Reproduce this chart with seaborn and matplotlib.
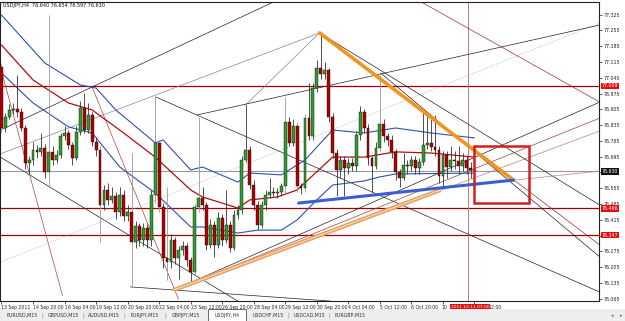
import matplotlib
matplotlib.use("Agg")
import matplotlib.pyplot as plt
import numpy as np
import pandas as pd
import seaborn as sns
from matplotlib.patches import Rectangle
from matplotlib.transforms import ScaledTranslation

sns.set_style("white")
plt.rcParams['font.family'] = ['DejaVu Sans']

# ---------------- data ----------------
first_open = 77.093
closes = [76.822, 76.871, 76.902, 76.905, 76.893, 76.822, 76.667, 76.680, 76.724, 76.716,
          76.733, 76.627, 76.716, 76.680, 76.702, 76.787, 76.800, 76.747, 76.689, 76.804,
          76.911, 76.813, 76.880, 76.760, 76.724, 76.480, 76.547, 76.503, 76.520, 76.449,
          76.525, 76.432, 76.449, 76.316, 76.387, 76.325, 76.378, 76.325, 76.525, 76.756,
          76.472, 76.245, 76.227, 76.325, 76.245, 76.281, 76.298, 76.236, 76.183, 76.472,
          76.511, 76.480, 76.303, 76.392, 76.303, 76.423, 76.325, 76.392, 76.290, 76.436,
          76.458, 76.680, 76.724, 76.569, 76.480, 76.392, 76.480, 76.525, 76.538, 76.534,
          76.538, 76.565, 76.849, 76.756, 76.831, 76.565, 76.556, 76.866, 76.787, 76.999,
          77.088, 77.062, 77.079, 76.871, 76.711, 76.636, 76.680, 76.645, 76.667, 76.653,
          76.791, 76.893, 76.822, 76.689, 76.653, 76.733, 76.840, 76.787, 76.769, 76.716,
          76.627, 76.600, 76.658, 76.653, 76.680, 76.645, 76.671, 76.747, 76.756, 76.738,
          76.724, 76.609, 76.702, 76.649, 76.680, 76.676, 76.653, 76.680, 76.645, 76.636,
          76.630]
highs = [77.110, 76.890, 76.930, 76.935, 77.057, 76.910, 76.835, 76.700, 76.760, 76.745,
         76.800, 76.750, 77.324, 76.740, 76.725, 76.800, 76.830, 76.815, 76.760, 76.830,
         76.940, 76.977, 76.933, 76.895, 76.780, 76.740, 76.570, 76.580, 76.560, 76.540,
         76.560, 76.545, 76.480, 76.711, 76.410, 76.400, 76.400, 76.395, 76.545, 76.960,
         76.770, 76.490, 76.560, 76.350, 76.340, 76.300, 76.320, 76.310, 76.250, 76.490,
         76.871, 76.560, 76.495, 76.420, 76.410, 76.450, 76.440, 76.547, 76.410, 76.460,
         76.480, 76.700, 76.924, 76.740, 76.590, 76.500, 76.500, 76.545, 76.600, 76.560,
         76.555, 76.580, 76.960, 76.870, 76.860, 76.850, 76.580, 76.885, 77.020, 77.020,
         77.124, 77.244, 77.115, 77.090, 76.890, 76.730, 76.700, 76.700, 76.690, 76.690,
         76.810, 76.920, 76.905, 76.840, 76.700, 76.760, 77.066, 76.860, 76.800, 76.790,
         76.730, 76.640, 76.711, 76.680, 76.700, 76.700, 76.690, 76.900, 76.889, 76.860,
         76.880, 76.740, 76.720, 76.720, 76.740, 76.720, 76.740, 76.710, 76.700, 76.670,
         76.654]
lows = [76.800, 76.805, 76.860, 76.885, 76.870, 76.810, 76.640, 76.620, 76.660, 76.690,
        76.700, 76.600, 76.560, 76.660, 76.665, 76.690, 76.770, 76.730, 76.660, 76.680,
        76.790, 76.800, 76.800, 76.740, 76.700, 76.316, 76.460, 76.480, 76.490, 76.420,
        76.430, 76.410, 76.410, 76.117, 76.290, 76.300, 76.300, 76.290, 76.300, 76.490,
        76.450, 76.200, 76.148, 76.200, 76.220, 76.150, 76.260, 76.210, 76.130, 76.170,
        76.450, 76.460, 76.280, 76.290, 76.250, 76.290, 76.300, 76.310, 76.270, 76.280,
        76.420, 76.440, 76.670, 76.550, 76.460, 76.370, 76.380, 76.460, 76.510, 76.520,
        76.510, 76.520, 76.534, 76.740, 76.740, 76.540, 76.530, 76.540, 76.770, 76.770,
        76.980, 77.040, 77.040, 76.850, 76.690, 76.520, 76.600, 76.520, 76.620, 76.630,
        76.630, 76.770, 76.800, 76.660, 76.540, 76.640, 76.720, 76.760, 76.740, 76.690,
        76.590, 76.560, 76.590, 76.620, 76.630, 76.620, 76.620, 76.660, 76.730, 76.720,
        76.700, 76.580, 76.560, 76.600, 76.630, 76.640, 76.620, 76.630, 76.620, 76.600,
        76.597]

upper_bars = [0, 11, 20, 24, 29, 33, 39, 41, 48, 51, 60, 63, 71, 77, 84, 92, 100, 109, 120]
upper_vals = [77.323, 77.110, 77.013, 76.999, 76.902, 76.844, 76.756, 76.769, 76.636, 76.649,
              76.582, 76.622, 76.614, 76.680, 76.813, 76.800, 76.822, 76.800, 76.778]
mid_bars = [0, 8, 17, 23, 31, 39, 48, 51, 60, 63, 70, 75, 84, 92, 100, 109, 120]
mid_vals = [77.190, 77.035, 76.933, 76.902, 76.800, 76.693, 76.547, 76.516, 76.467, 76.503,
            76.516, 76.547, 76.693, 76.693, 76.716, 76.711, 76.693]
lower_bars = [0, 8, 17, 23, 30, 39, 48, 51, 60, 65, 71, 75, 80, 84, 92, 96, 100, 120]
lower_vals = [77.066, 76.933, 76.827, 76.800, 76.649, 76.534, 76.383, 76.383, 76.356, 76.369,
              76.369, 76.414, 76.503, 76.569, 76.587, 76.605, 76.618, 76.622]

level_prices = [77.009, 76.466, 76.347]
level_labels = ["77.009", "76.466", "76.347"]
current_price = 76.630

x_tick_labels = ["13 Sep 2011", "14 Sep 20:00", "16 Sep 04:00", "19 Sep 12:00", "20 Sep 20:00",
                 "22 Sep 04:00", "23 Sep 12:00", "26 Sep 20:00", "28 Sep 04:00", "29 Sep 12:00",
                 "30 Sep 20:00", "4 Oct 04:00", "5 Oct 12:00", "6 Oct 20:00", "10", "12:00"]
bars_per_label = 8
y_tick_labels = ["77.325", "77.255", "77.185", "77.115", "77.040", "76.975", "76.905", "76.835",
                 "76.765", "76.695", "", "76.555", "76.485", "76.415", "", "76.275",
                 "76.205", "76.135", "76.065"]
y_tick_top, y_tick_step = 77.325, 0.07

# trend objects: (bar1, price1, bar2, price2, color, width, style)
trendlines = [
    (-0.3, 76.813, 70.1, 77.390, "#222222", 0.5, "-"),
    (-0.3, 76.707, 80.7, 77.244, "#888888", 0.5, "-"),
    (80.7, 77.244, 61.7, 76.920, "#888888", 0.5, "-"),
    (-0.3, 76.693, 60.7, 76.046, "#222222", 0.5, "-"),
    (32.7, 76.117, 83.5, 76.054, "#222222", 0.5, "-"),
    (-0.3, 77.093, 15.5, 76.077, "#B04040", 0.5, "-"),
    (23.1, 76.999, 44.9, 76.063, "#B04040", 0.5, "-"),
    (-0.3, 76.227, 151.8, 77.288, "#999999", 0.5, ":"),
    (49.7, 76.880, 151.8, 77.279, "#222222", 0.5, "-"),
    (105.6, 77.390, 151.8, 76.937, "#A03030", 0.5, "-"),
    (43.7, 76.103, 151.8, 76.937, "#222222", 0.5, "-"),
    (43.7, 76.103, 151.8, 76.866, "#A04040", 0.5, "-"),
    (43.7, 76.103, 151.8, 76.809, "#C08080", 0.5, "-"),
    (80.7, 77.244, 151.8, 76.480, "#222222", 0.5, "-"),
    (96.2, 77.066, 151.8, 76.250, "#222222", 0.5, "-"),
    (39.1, 76.960, 151.8, 76.094, "#222222", 0.5, "-"),
    (80.7, 77.244, 151.8, 76.303, "#A03030", 0.5, "-"),
    (75.4, 76.489, 151.8, 76.631, "#C08080", 0.5, "-"),
]
orange_line = (80.7, 77.244, 129.9, 76.591)
blue_line = (75.4, 76.489, 129.9, 76.591)
tan_line = (43.7, 76.103, 111.4, 76.547)
box = (120.0, 76.489, 133.8, 76.742)
vline_bar = 118.25
vline_label = "2011.10.11 07:00"
title = "USDJPY,H4  76.640 76.654 76.597 76.630"
tabs = ["EURUSD,M15", "GBPUSD,M15", "AUDUSD,M15", "EURJPY,M15", "GBPJPY,M15",
        "USDJPY,H4", "USDCHF,M15", "USDCAD,M15", "EURGBP,M15"]
active_tab = "USDJPY,H4"

# ---------------- figure ----------------
W, H = 625, 321
fig = plt.figure(figsize=(W / 100, H / 100), dpi=100)
fig.patch.set_facecolor("white")
ax = fig.add_axes([0 / W, 1 - 301 / H, 599 / W, 299 / H])
ax.set_facecolor("white")

n = len(closes)
bars = np.arange(n)
opens = [first_open] + closes[:-1]
df = pd.DataFrame({"bar": bars, "open": opens, "high": highs, "low": lows, "close": closes})

for p in level_prices:
    ax.axhline(p, color="#A00000", lw=0.9, zorder=1)
ax.axhline(current_price, color="#9A9A9A", lw=0.8, zorder=1)
ax.axvline(vline_bar, color="#C87878", lw=0.7, zorder=1)

for b1, p1, b2, p2, c, w, ls in trendlines:
    ax.plot([b1, b2], [p1, p2], color=c, lw=w, ls=ls, zorder=2)

sns.lineplot(x=upper_bars, y=upper_vals, ax=ax, color="#3050B0", lw=0.8, zorder=3)
sns.lineplot(x=mid_bars, y=mid_vals, ax=ax, color="#B01010", lw=0.9, zorder=3)
sns.lineplot(x=lower_bars, y=lower_vals, ax=ax, color="#3050B0", lw=0.8, zorder=3)

for r in df.itertuples():
    span = r.high - r.low
    wc = "#999999" if span > 0.3 else "#333333"
    ax.vlines(r.bar, r.low, r.high, color=wc, lw=0.6, zorder=4)
    bull = r.close >= r.open
    bottom = min(r.open, r.close)
    h = max(abs(r.close - r.open), 0.003)
    ax.add_patch(Rectangle((r.bar - 0.36, bottom), 0.72, h,
                           facecolor="#2E9E2E" if bull else "#B00000",
                           edgecolor="#111111", lw=0.3, zorder=5))

ax.plot([tan_line[0], tan_line[2]], [tan_line[1], tan_line[3]], color="#E8A060", lw=3.0,
        solid_capstyle="butt", zorder=6)
ax.plot([tan_line[0], tan_line[2]], [tan_line[1], tan_line[3]], color="#FBE2C8", lw=0.7, zorder=6)
ax.plot([orange_line[0], orange_line[2]], [orange_line[1], orange_line[3]], color="#F39420",
        lw=2.6, solid_capstyle="round", zorder=6)
ax.plot([blue_line[0], blue_line[2]], [blue_line[1], blue_line[3]], color="#3A5FD0",
        lw=2.2, solid_capstyle="round", zorder=6)
ax.add_patch(Rectangle((box[0], box[1]), box[2] - box[0], box[3] - box[1], fill=False,
                       edgecolor="#D42020", lw=1.8, zorder=7))

ax.set_xlim(-0.38, 151.6)
ax.set_ylim(76.0545, 77.381)
for s in ax.spines.values():
    s.set_color("#222222")
    s.set_linewidth(0.8)

ax.yaxis.tick_right()
yt = [y_tick_top - i * y_tick_step for i in range(len(y_tick_labels))]
ax.set_yticks(yt)
ax.set_yticklabels(y_tick_labels)
ax.tick_params(axis="y", labelsize=3.4, length=2, width=0.5, pad=1.5, colors="#222222", right=True)

xt = [i * bars_per_label for i in range(len(x_tick_labels))]
ax.set_xticks(xt)
ax.set_xticklabels(x_tick_labels)
ax.tick_params(axis="x", labelsize=3.3, length=2, width=0.5, pad=1.2, colors="#222222", bottom=True)
xlabs = ax.get_xticklabels()
for lab in xlabs:
    lab.set_ha("left")
xlabs[-2].set_transform(xlabs[-2].get_transform() + ScaledTranslation(-0.015, 0, fig.dpi_scale_trans))
xlabs[-1].set_transform(xlabs[-1].get_transform() + ScaledTranslation(0.14, 0, fig.dpi_scale_trans))

ytr = ax.get_yaxis_transform()
for p, lab in zip(level_prices, level_labels):
    ax.text(1.004, p, lab, transform=ytr, fontsize=3.4, color="white", ha="left", va="center",
            bbox=dict(facecolor="#E01010", edgecolor="none", pad=0.6), zorder=10, clip_on=False)
ax.text(1.004, current_price, f"{current_price:.3f}", transform=ytr, fontsize=3.4, color="white",
        ha="left", va="center", bbox=dict(facecolor="#111111", edgecolor="none", pad=0.6),
        zorder=10, clip_on=False)

xtr = ax.get_xaxis_transform() + ScaledTranslation(0.025, 0, fig.dpi_scale_trans)
ax.text(vline_bar, -0.012, vline_label, transform=xtr, fontsize=3.2, color="white", ha="center",
        va="top", bbox=dict(facecolor="#E01010", edgecolor="none", pad=0.5), zorder=10, clip_on=False)

ax.text(0.005, 0.995, title, transform=ax.transAxes, fontsize=3.5, color="#111111",
        ha="left", va="top")

fig.add_artist(Rectangle((0, 0), 1, 12 / H, transform=fig.transFigure, facecolor="#EEEEEE",
                         edgecolor="none", zorder=0))
tab_w = 41
for i, t in enumerate(tabs):
    cx = 22 + i * tab_w
    if t == active_tab:
        fig.add_artist(Rectangle(((cx - 19) / W, 0), 38 / W, 12 / H, transform=fig.transFigure,
                                 facecolor="white", edgecolor="#555555", lw=0.6, zorder=1))
    fig.text(cx / W, 5.5 / H, t, fontsize=3.4, color="#333333", ha="center", va="center", zorder=2)
    if i < len(tabs) - 1 and t != active_tab and tabs[i + 1] != active_tab:
        fig.text((cx + tab_w / 2) / W, 5.5 / H, "|", fontsize=3.6, color="#777777", ha="center",
                 va="center")
fig.text(612 / W, 5.5 / H, "\u25C2", fontsize=3.5, color="#666666", ha="center", va="center")
fig.text(621 / W, 5.5 / H, "\u25B8", fontsize=3.5, color="#666666", ha="center", va="center")

fig.savefig("out.png", dpi=100, facecolor="white")
